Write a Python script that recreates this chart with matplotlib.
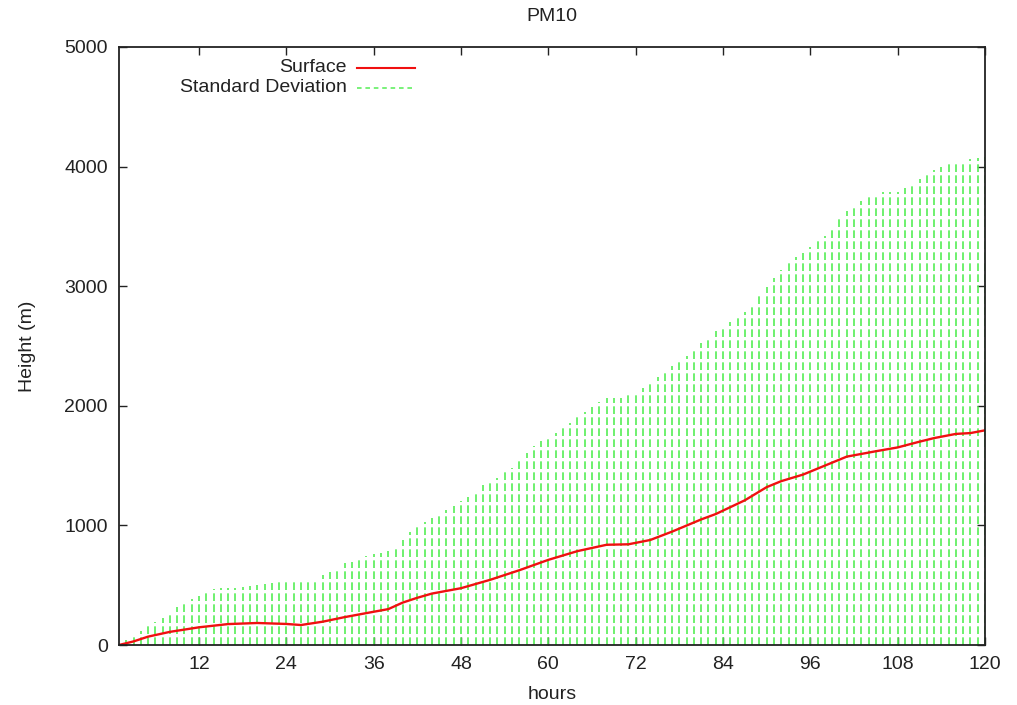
import matplotlib
matplotlib.use("Agg")
import matplotlib.pyplot as plt
import numpy as np

plt.rcParams['font.family'] = ['Liberation Sans', 'DejaVu Sans']

title = "PM10"
x_label = "hours"
y_label = "Height (m)"
legend_labels = ["Surface", "Standard Deviation"]
x_ticks = [12, 24, 36, 48, 60, 72, 84, 96, 108, 120]
y_ticks = [0, 1000, 2000, 3000, 4000, 5000]

# Standard deviation upper extent, one value per hour (1..120)
std_hours = list(range(1, 121))
std_top = [
    10, 40, 70, 117, 159, 195, 228, 266, 320, 340,
    385, 413, 446, 465, 480, 480, 480, 486, 494, 505,
    513, 521, 530, 535, 535, 535, 535, 544, 586, 614,
    636, 683, 691, 725, 747, 761, 766, 789, 831, 880,
    945, 989, 1031, 1059, 1093, 1129, 1165, 1204, 1240, 1285,
    1338, 1370, 1399, 1449, 1483, 1552, 1602, 1664, 1706, 1742,
    1775, 1831, 1853, 1917, 1951, 1992, 2029, 2062, 2062, 2062,
    2096, 2118, 2146, 2188, 2238, 2271, 2330, 2380, 2416, 2472,
    2528, 2564, 2628, 2667, 2704, 2751, 2787, 2851, 2924, 2996,
    3066, 3135, 3205, 3247, 3280, 3331, 3386, 3423, 3492, 3562,
    3632, 3679, 3712, 3743, 3768, 3785, 3785, 3785, 3824, 3852,
    3893, 3930, 3972, 4000, 4028, 4044, 4050, 4061, 4069, 4080,
]

# Surface curve
surf_hours = [1, 3, 5, 8, 12, 16, 20, 24, 26, 29, 32, 36, 38, 40, 42, 44, 48,
              52, 56, 60, 64, 68, 71, 74, 77, 81, 83, 87, 90, 92, 95, 98,
              101, 105, 108, 111, 113, 116, 118, 120]
surf_vals = [0, 30, 70, 110, 148, 175, 184, 176, 167, 195, 233, 278, 300, 355,
             395, 430, 475, 545, 625, 712, 785, 838, 842, 878, 948, 1050, 1095,
             1210, 1320, 1370, 1425, 1500, 1575, 1620, 1652, 1700, 1730, 1765,
             1772, 1795]

fig = plt.figure(figsize=(10.17, 7.05), dpi=100)
ax = fig.add_axes([119/1017, 1 - 645/705, 866/1017, 598/705])

green = '#55ee55'
red = '#f01010'
ax.vlines(std_hours, 0, std_top, colors=green, linewidth=1.2,
          linestyles=(0, (4.6, 2.0)))
ax.plot(surf_hours, surf_vals, color=red, linewidth=1.7,
        solid_joinstyle='round', solid_capstyle='round')

ax.set_xlim(1, 120)
ax.set_ylim(0, 5000)
ax.set_xticks(x_ticks)
ax.set_yticks(y_ticks)
ax.tick_params(direction='in', length=6, width=1, top=True, right=True,
               labelsize=14, pad=8, colors='#222222')
for s in ax.spines.values():
    s.set_linewidth(1.3)
    s.set_color('#222222')

ax.set_title(title, fontsize=14, pad=19, color='#222222')
ax.set_xlabel(x_label, fontsize=14, labelpad=9, color='#222222')
ax.set_ylabel(y_label, fontsize=14, labelpad=20, color='#222222')

# legend (gnuplot style: right-aligned text, sample on the right)
tx = (347 - 119) / 866
lx0 = (357 - 119) / 866
lx1 = (415 - 119) / 866
ys = [(645 - 68) / 598, (645 - 88) / 598]
ax.text(tx, ys[0], legend_labels[0], transform=ax.transAxes, ha='right',
        va='center', fontsize=14, color='#222222')
ax.plot([lx0, lx1], [ys[0], ys[0]], transform=ax.transAxes, color=red,
        linewidth=1.5)
ax.text(tx, ys[1], legend_labels[1], transform=ax.transAxes, ha='right',
        va='center', fontsize=14, color='#222222')
ax.plot([lx0, lx1], [ys[1], ys[1]], transform=ax.transAxes, color=green,
        linewidth=1.1, linestyle=(0, (3.0, 2.5)))

fig.savefig('out.png', dpi=100)
